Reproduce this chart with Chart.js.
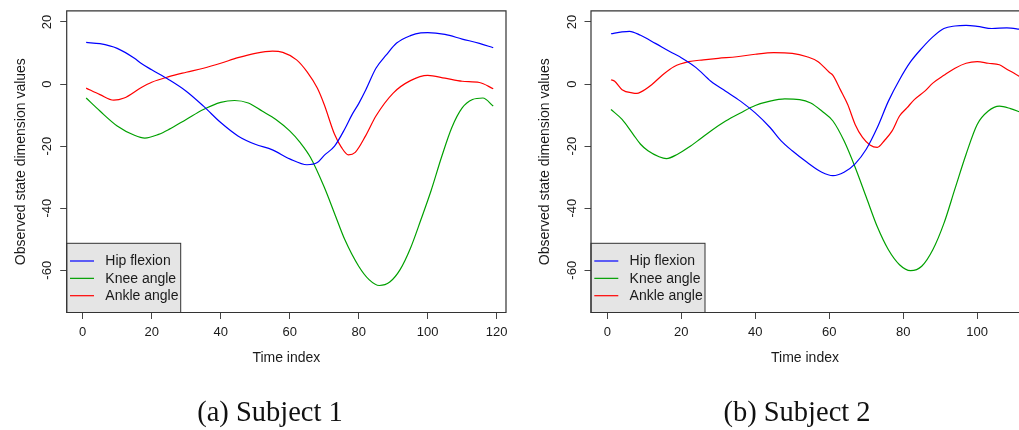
<!DOCTYPE html>
<html>
<head>
<meta charset="utf-8">
<script src="https://cdn.jsdelivr.net/npm/chart.js@4.4.1/dist/chart.umd.min.js"></script>
<style>
  body { margin: 0; width: 1019px; height: 430px; overflow: hidden; background: #fff; position: relative; }
  .panel { position: absolute; top: 0; height: 430px; }
  .caption { position: absolute; top: 398px; font-family: "Liberation Serif", serif; font-size: 28.5px;
             line-height: 28px; text-align: center; color: #111; white-space: nowrap; }
</style>
</head>
<body>
<div class="panel" style="left:0;width:520px"><canvas id="subject1" width="520" height="430"></canvas></div>
<div class="panel" style="left:520px;width:499px"><canvas id="subject2" width="499" height="430"></canvas></div>
<div class="caption" style="left:170px;width:200px">(a) Subject 1</div>
<div class="caption" style="left:697px;width:200px">(b) Subject 2</div>
<script>
const seriesNames = ["Hip flexion", "Knee angle", "Ankle angle"];
const seriesColors = ["rgb(0, 0, 255)", "rgb(0, 160, 0)", "rgb(255, 0, 0)"];
const yTicks = [-60, -40, -20, 0, 20];
const xTicks1 = [0, 20, 40, 60, 80, 100, 120];
const xTicks2 = [0, 20, 40, 60, 80, 100];

// Subject 1
const s1HipT = [1, 5, 10, 15, 17, 20, 25, 30, 35, 40, 45, 50, 55, 60, 65, 68, 70, 73, 76, 78, 80, 82, 85, 88, 91, 95, 98, 100, 105, 110, 115, 119];
const s1HipV = [13.4, 13.0, 11.5, 8.3, 6.6, 4.6, 1.4, -2.3, -7.1, -12.4, -16.7, -19.4, -21.2, -24.1, -26.0, -25.3, -23.0, -20.0, -14.4, -10.0, -6.3, -2.0, 5.1, 9.4, 13.2, 15.6, 16.5, 16.6, 16.0, 14.5, 13.1, 11.7];
const s1KneeT = [1, 5, 10, 15, 18, 22, 25, 30, 35, 40, 44, 48, 52, 56, 60, 63, 66, 70, 73, 76, 80, 83, 86, 89, 92, 95, 98, 101, 104, 107, 110, 113, 116, 119];
const s1KneeV = [-4.5, -8.7, -13.5, -16.5, -17.4, -16.2, -14.6, -11.4, -8.2, -5.9, -5.3, -6.1, -8.7, -11.4, -15.1, -18.8, -23.6, -33.2, -41.7, -50.2, -58.7, -63.0, -64.9, -63.8, -59.8, -52.9, -43.8, -34.3, -23.6, -14.0, -7.7, -5.0, -4.5, -7.1];
const s1AnkleT = [1, 5, 9, 12, 17, 20, 25, 30, 35, 40, 45, 50, 55, 58, 62, 65, 68, 70, 73, 75, 77, 79, 82, 85, 90, 95, 100, 105, 110, 115, 119];
const s1AnkleV = [-1.3, -3.4, -5.2, -4.5, -1.1, 0.6, 2.4, 3.8, 5.1, 6.7, 8.5, 9.9, 10.6, 10.2, 7.8, 4.0, -1.3, -6.6, -16.2, -20.4, -22.8, -22.0, -16.7, -10.3, -2.9, 1.1, 2.8, 1.9, 0.9, 0.5, -1.5];

// Subject 2
const s2HipT = [1, 4, 6, 9, 13, 17, 20, 24, 28, 32, 36, 40, 44, 47, 50, 54, 58, 61, 64, 67, 70, 73, 76, 79, 82, 85, 88, 91, 94, 97, 100, 104, 108, 112];
const s2HipV = [16.2, 16.8, 17.0, 15.7, 13.1, 10.4, 8.5, 5.3, 0.9, -2.3, -5.5, -9.3, -14.0, -18.3, -21.5, -25.2, -28.4, -29.5, -28.4, -25.7, -21.0, -14.0, -5.5, 1.4, 7.2, 11.5, 15.2, 17.9, 18.7, 18.9, 18.6, 17.9, 18.1, 17.6];
const s2KneeT = [1, 4, 7, 9, 11, 14, 16, 19, 22, 25, 28, 32, 36, 40, 44, 48, 52, 55, 58, 61, 64, 67, 70, 73, 76, 79, 82, 85, 88, 91, 94, 97, 100, 103, 106, 109, 112];
const s2KneeV = [-8.2, -11.4, -16.2, -19.4, -21.5, -23.4, -24.0, -22.6, -20.4, -17.8, -15.1, -11.9, -9.3, -6.9, -5.5, -4.8, -5.0, -6.1, -8.7, -11.9, -18.3, -26.8, -36.4, -46.0, -53.4, -58.2, -60.1, -58.7, -53.4, -44.9, -33.7, -22.6, -13.0, -8.7, -7.1, -7.9, -9.2];
const s2AnkleT = [1, 2, 4, 7, 8, 9, 12, 15, 18, 22, 26, 30, 35, 40, 45, 50, 54, 57, 60, 61, 63, 65, 67, 69, 71, 73, 75, 77, 79, 81, 83, 86, 88, 91, 94, 97, 100, 103, 106, 108, 110, 112];
const s2AnkleV = [1.4, 0.9, -1.8, -2.9, -3.0, -2.6, -0.2, 3.0, 5.6, 7.2, 7.8, 8.3, 8.8, 9.6, 10.1, 9.9, 8.8, 7.2, 3.8, 2.8, -1.8, -6.6, -13.0, -17.2, -19.6, -20.4, -18.1, -15.1, -10.3, -7.7, -5.0, -2.1, 0.3, 2.8, 5.1, 6.7, 7.2, 6.7, 6.2, 4.8, 3.5, 2.0];

const ink = "#1a1a1a";
const sans = "'Liberation Sans', Arial, sans-serif";

// R-style box round the plot and the grey legend in the bottom-left corner
const framePlugin = {
  id: "frame",
  afterDraw(chart, args, opts) {
    const { ctx, chartArea: a } = chart;
    const boxTop = 243.3, boxW = 114;

    ctx.save();
    ctx.fillStyle = "#e5e5e5";
    ctx.fillRect(a.left, boxTop, boxW, a.bottom - boxTop);
    ctx.strokeStyle = "#333";
    ctx.lineWidth = 1;
    ctx.strokeRect(a.left, boxTop, boxW, a.bottom - boxTop);

    ctx.font = "14px " + sans;
    ctx.textBaseline = "middle";
    chart.data.datasets.forEach((ds, i) => {
      const y = boxTop + 17.7 + i * 17.35;
      ctx.strokeStyle = ds.borderColor;
      ctx.lineWidth = 1.2;
      ctx.beginPath();
      ctx.moveTo(a.left + 3.3, y);
      ctx.lineTo(a.left + 27.3, y);
      ctx.stroke();
      ctx.fillStyle = ink;
      ctx.fillText(ds.label, a.left + 38.6, y + 0.5);
    });

    ctx.strokeStyle = "#333";
    ctx.lineWidth = 1.2;
    ctx.beginPath();
    if (opts.openRight) {
      ctx.moveTo(chart.width, a.top);
      ctx.lineTo(a.left, a.top);
      ctx.lineTo(a.left, a.bottom);
      ctx.lineTo(chart.width, a.bottom);
    } else {
      ctx.rect(a.left, a.top, a.right - a.left, a.bottom - a.top);
    }
    ctx.stroke();
    ctx.restore();
  }
};

function makeChart(id, times, values, xMin, xMax, xTicks, cfg) {
  const datasets = seriesNames.map((name, i) => ({
    label: name,
    data: times[i].map((t, j) => ({ x: t, y: values[i][j] })),
    borderColor: seriesColors[i],
    backgroundColor: seriesColors[i],
    borderWidth: 1.2,
    pointRadius: 0,
    cubicInterpolationMode: "monotone",
    fill: false
  }));

  return new Chart(document.getElementById(id), {
    type: "line",
    data: { datasets },
    plugins: [framePlugin],
    options: {
      responsive: false,
      animation: false,
      events: [],
      layout: { padding: { left: 0, top: 8.3, right: cfg.padRight, bottom: 0 } },
      plugins: {
        legend: { display: false },
        tooltip: { enabled: false },
        frame: { openRight: cfg.openRight }
      },
      scales: {
        x: {
          type: "linear",
          min: xMin,
          max: xMax,
          afterBuildTicks: (s) => { s.ticks = xTicks.map(v => ({ value: v })); },
          afterFit: (s) => { s.height = 117.5; },
          grid: { display: true, drawOnChartArea: false, drawTicks: true, tickLength: 6.5, color: "#444", lineWidth: 1 },
          border: { display: false },
          ticks: { color: ink, font: { family: sans, size: 13 }, padding: 5.5, maxRotation: 0, autoSkip: false },
          title: { display: true, text: "Time index", color: ink, font: { family: sans, size: 14 }, padding: { top: 0, bottom: 63.5 } }
        },
        y: {
          type: "linear",
          min: -73.6,
          max: 23.6,
          afterBuildTicks: (s) => { s.ticks = yTicks.map(v => ({ value: v })); },
          afterFit: (s) => { s.width = cfg.yWidth; },
          grid: { display: true, drawOnChartArea: false, drawTicks: true, tickLength: 6.5, color: "#444", lineWidth: 1 },
          border: { display: false },
          ticks: { color: ink, font: { family: sans, size: 13 }, padding: 3, minRotation: 90, maxRotation: 90, crossAlign: "center", autoSkip: false },
          title: { display: true, text: "Observed state dimension values", color: ink, font: { family: sans, size: 14 }, padding: { top: cfg.titlePad, bottom: 0 } }
        }
      }
    }
  });
}

makeChart("subject1", [s1HipT, s1KneeT, s1AnkleT], [s1HipV, s1KneeV, s1AnkleV], -4.64, 122.7, xTicks1,
  { padRight: 14, yWidth: 66.7, titlePad: 12.8, openRight: false });
makeChart("subject2", [s2HipT, s2KneeT, s2AnkleT], [s2HipV, s2KneeV, s2AnkleV], -4.4, 111.3, xTicks2,
  { padRight: 0, yWidth: 71, titlePad: 16.9, openRight: true });
</script>
</body>
</html>
